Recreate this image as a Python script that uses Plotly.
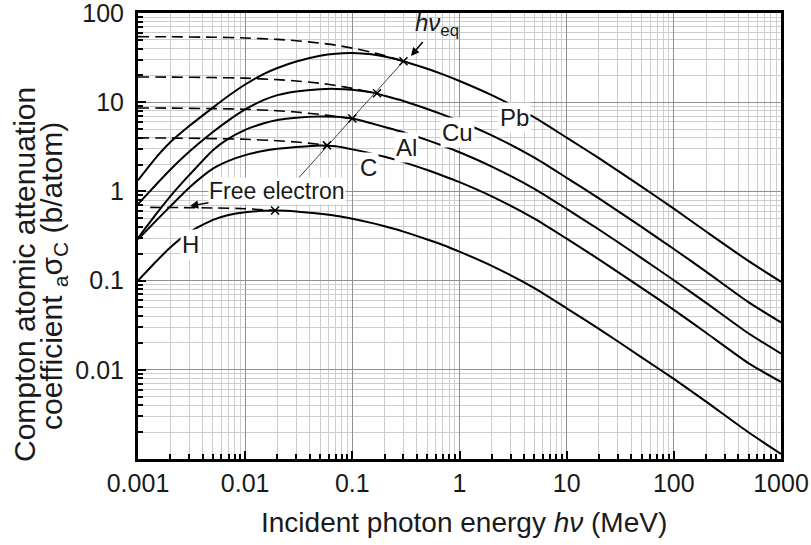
import plotly.graph_objects as go

# ---------------- data ----------------
energy = [0.001, 0.0015, 0.002, 0.003, 0.005, 0.007, 0.01, 0.015, 0.02, 0.03,
          0.05, 0.07, 0.1, 0.15, 0.2, 0.3, 0.5, 0.7, 1, 2, 5, 10, 20, 50,
          100, 200, 500, 1000]

sigma_Pb = [1.33, 2.45, 3.55, 5.4, 8.7, 11.8, 15.8, 20.8, 24.2, 28.6, 33.2, 35.0,
            35.5, 34.4, 32.5, 28.8, 23.7, 20.5, 17.3, 12.0, 6.75, 4.0, 2.36,
            1.13, 0.64, 0.355, 0.165, 0.097]
sigma_Cu = [0.72, 1.22, 1.75, 2.78, 4.63, 6.26, 8.3, 10.6, 12.0, 13.2, 14.0, 14.1,
            13.8, 12.9, 11.8, 10.3, 8.39, 7.25, 6.12, 4.25, 2.39, 1.42, 0.835,
            0.40, 0.226, 0.126, 0.057, 0.034]
sigma_Al = [0.30, 0.57, 0.88, 1.52, 2.9, 3.9, 4.9, 5.8, 6.3, 6.7, 6.9, 6.85,
            6.55, 5.8, 5.28, 4.61, 3.76, 3.25, 2.75, 1.90, 1.07, 0.636, 0.374,
            0.179, 0.101, 0.0563, 0.0255, 0.0152]
sigma_C = [0.29, 0.48, 0.68, 1.1, 1.8, 2.2, 2.55, 2.85, 3.0, 3.15, 3.28, 3.2,
           2.96, 2.66, 2.44, 2.13, 1.735, 1.50, 1.27, 0.88, 0.495, 0.295, 0.173,
           0.083, 0.047, 0.026, 0.0118, 0.0073]
sigma_H = [0.10, 0.167, 0.235, 0.35, 0.48, 0.545, 0.585, 0.605, 0.61, 0.595, 0.56,
           0.532, 0.4927, 0.4436, 0.4065, 0.3543, 0.2892, 0.251, 0.2112, 0.1464,
           0.0823, 0.0489, 0.0288, 0.0138, 0.0079, 0.0044, 0.00198, 0.00114]

# free-electron (dashed) curves, Z x electronic cross section, up to hv_eq
dash_E = [0.001, 0.002, 0.005, 0.01, 0.02, 0.03, 0.05, 0.07, 0.1, 0.15, 0.2, 0.3]
dash_Pb = [54.3, 54.1, 53.5, 52.5, 50.6, 48.9, 46.0, 43.6, 40.4, 36.4, 33.3, 28.8]
dash_Cu_E = [0.001, 0.002, 0.005, 0.01, 0.02, 0.03, 0.05, 0.07, 0.1, 0.15, 0.17]
dash_Cu = [19.2, 19.1, 18.9, 18.6, 17.9, 17.3, 16.3, 15.4, 14.3, 12.9, 12.6]
dash_Al_E = [0.001, 0.002, 0.005, 0.01, 0.02, 0.03, 0.05, 0.07, 0.1]
dash_Al = [8.61, 8.58, 8.48, 8.32, 8.02, 7.75, 7.29, 6.92, 6.55]
dash_C_E = [0.001, 0.002, 0.005, 0.01, 0.02, 0.03, 0.05, 0.058]
dash_C = [3.98, 3.96, 3.91, 3.84, 3.70, 3.58, 3.36, 3.28]
dash_H_E = [0.0013, 0.002, 0.005, 0.01, 0.019]
dash_H = [0.662, 0.660, 0.652, 0.640, 0.61]

# hv_eq points (x marks) for H, C, Al, Cu, Pb
eq_E = [0.019, 0.058, 0.1, 0.17, 0.30]
eq_sigma = [0.61, 3.28, 6.55, 12.6, 28.8]
# thin line through the hv_eq points
eq_line_E = [0.0313, 0.30]
eq_line_sigma = [1.40, 28.8]

x_tickvals = [0.001, 0.01, 0.1, 1, 10, 100, 1000]
x_ticktext = ["0.001", "0.01", "0.1", "1", "10", "100", "1000"]
y_tickvals = [0.01, 0.1, 1, 10, 100]
y_ticktext = ["0.01", "0.1", "1", "10", "100"]

FONT = "Liberation Sans, Arial, Helvetica, sans-serif"
TXT = "#1a1a1a"

fig = go.Figure()

solid = dict(color="black", width=2)
dashed = dict(color="black", width=1.6, dash="11px,6px")

for ex, ys in [(dash_E, dash_Pb), (dash_Cu_E, dash_Cu), (dash_Al_E, dash_Al),
               (dash_C_E, dash_C), (dash_H_E, dash_H)]:
    fig.add_trace(go.Scatter(x=ex, y=ys, mode="lines", line=dashed,
                             line_shape="spline", line_smoothing=0.6,
                             hoverinfo="skip"))

for ys in [sigma_Pb, sigma_Cu, sigma_Al, sigma_C, sigma_H]:
    fig.add_trace(go.Scatter(x=energy, y=ys, mode="lines", line=solid,
                             line_shape="spline", line_smoothing=0.6,
                             hoverinfo="skip"))

fig.add_trace(go.Scatter(x=eq_line_E, y=eq_line_sigma, mode="lines",
                         line=dict(color="#444", width=1), hoverinfo="skip"))
fig.add_trace(go.Scatter(x=eq_E, y=eq_sigma, mode="markers",
                         marker=dict(symbol="x-thin", size=8,
                                     line=dict(color="black", width=1.5)),
                         hoverinfo="skip"))

axis_common = dict(
    type="log", automargin=False, ticklabeloverflow="allow",
    showline=True, linewidth=3, linecolor="black", mirror=True,
    ticks="inside", ticklen=8, tickwidth=2, tickcolor="black",
    showgrid=True, gridcolor="#8f8f8f", gridwidth=1,
    tickfont=dict(family=FONT, size=25, color=TXT),
    zeroline=False,
    minor=dict(ticks="inside", ticklen=5, tickwidth=2, tickcolor="black",
               showgrid=True, gridcolor="#cdcdcd", gridwidth=1, dtick="D1"),
)

fig.update_xaxes(range=[-3, 3], tickmode="array", tickvals=x_tickvals,
                 ticktext=x_ticktext, ticklabelstandoff=0, **axis_common)
fig.update_yaxes(range=[-3, 2], tickmode="array", tickvals=y_tickvals,
                 ticktext=y_ticktext, ticklabelstandoff=6, **axis_common)

L, R, T, B = 138, 30, 13, 86
W, H = 811, 545
PW, PH = W - L - R, H - T - B


def px(xp):
    return (xp - L) / PW


def py(yp):
    return (T + PH - yp) / PH


annotations = []
# curve labels (white boxes break the lines)
for txt, xp, yp in [("Pb", 514, 102), ("Cu", 457, 117), ("Al", 406, 132),
                    ("C", 368, 152), ("H", 180, 245)]:
    annotations.append(dict(text=txt, x=px(xp), y=py(yp), xref="paper",
                            yref="paper", showarrow=False, bgcolor="white",
                            borderpad=1,
                            font=dict(family=FONT, size=24, color=TXT)))

# Free electron label with arrow
annotations.append(dict(text="Free electron", x=px(190), y=py(206),
                        xref="paper", yref="paper", showarrow=True,
                        ax=87, ay=-15, arrowhead=2, arrowsize=1.1,
                        arrowwidth=1.5, arrowcolor="black", bgcolor="white",
                        borderpad=0,
                        font=dict(family=FONT, size=23, color=TXT)))
# hv_eq label with arrow
annotations.append(dict(text="<i>hν</i><sub>eq</sub>", x=px(411), y=py(56),
                        xref="paper", yref="paper", showarrow=True,
                        ax=26, ay=-31, arrowhead=2, arrowsize=1.1,
                        arrowwidth=1.5, arrowcolor="black",
                        font=dict(family=FONT, size=24, color=TXT)))

# axis titles
annotations.append(dict(text="Incident photon energy <i>hν</i> (MeV)",
                        x=px(464), y=py(522), xref="paper", yref="paper",
                        showarrow=False, xanchor="center", yanchor="middle",
                        font=dict(family=FONT, size=28, color=TXT)))
annotations.append(dict(text="Compton atomic attenuation",
                        x=px(25), y=py(275), xref="paper", yref="paper",
                        showarrow=False, textangle=-90, xanchor="center",
                        yanchor="middle",
                        font=dict(family=FONT, size=30, color=TXT)))
annotations.append(dict(text="coefficient <sub>a</sub>σ<sub>C</sub> (b/atom)",
                        x=px(53), y=py(276), xref="paper", yref="paper",
                        showarrow=False, textangle=-90, xanchor="center",
                        yanchor="middle",
                        font=dict(family=FONT, size=30, color=TXT)))

fig.update_layout(
    width=W, height=H,
    margin=dict(l=L, r=R, t=T, b=B, pad=0),
    plot_bgcolor="white", paper_bgcolor="white",
    showlegend=False,
    annotations=annotations,
    font=dict(family=FONT),
)

fig.write_html("out.html",
               config={"displayModeBar": False},
               post_script="document.body.style.margin='0px';"
                           "document.body.style.overflow='hidden';")
